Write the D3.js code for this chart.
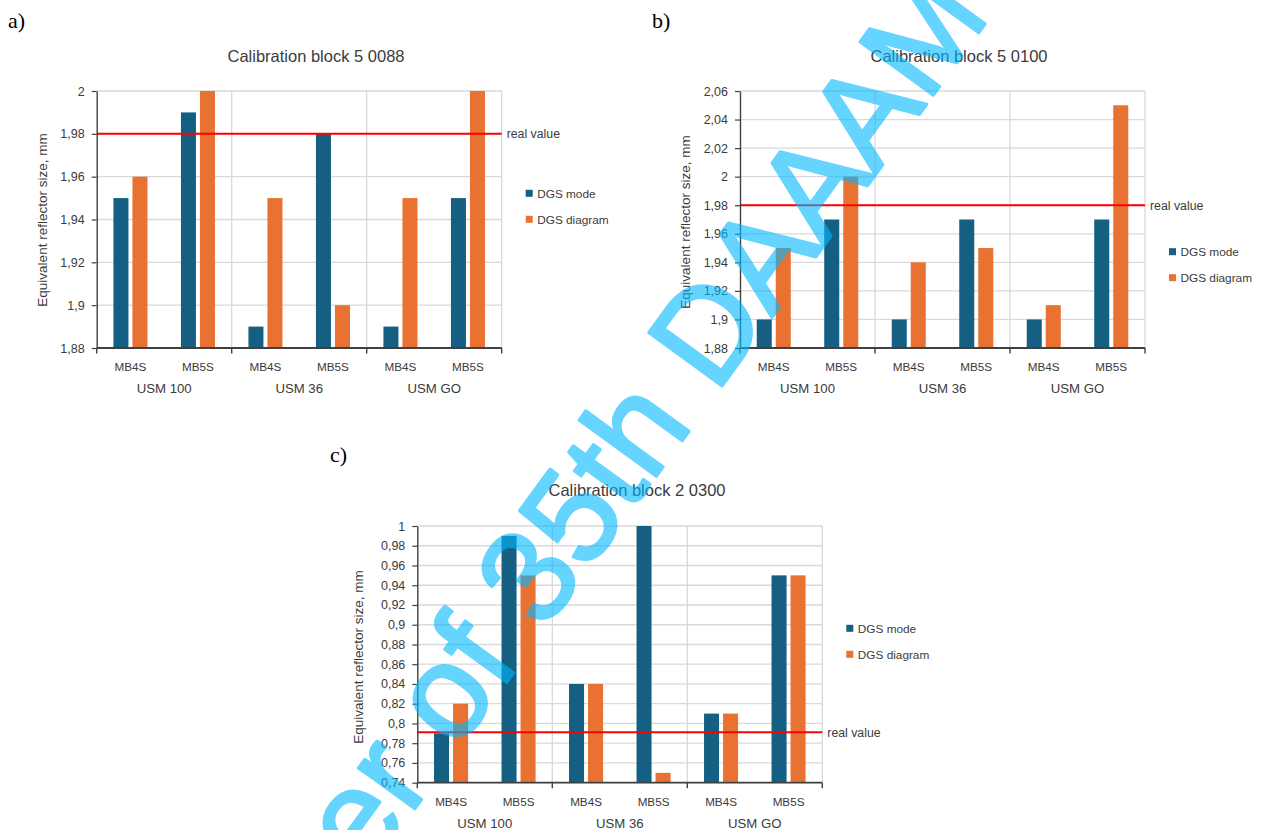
<!DOCTYPE html>
<html>
<head>
<meta charset="utf-8">
<script src="https://cdn.jsdelivr.net/npm/d3@7"></script>
<style>
  body { margin: 0; background: #fff; }
  svg { display: block; font-family: "Liberation Sans", Arial, sans-serif; }
</style>
</head>
<body>
<svg id="fig" width="1261" height="830"></svg>
<script>
// ---- data ----
var groups = ["USM 100", "USM 36", "USM GO"];
var probes = ["MB4S", "MB5S"];
var seriesNames = ["DGS mode", "DGS diagram"];
var panelLetters = ["a)", "b)", "c)"];
var titles = ["Calibration block 5 0088", "Calibration block 5 0100", "Calibration block 2 0300"];

// order: USM 100 MB4S, USM 100 MB5S, USM 36 MB4S, USM 36 MB5S, USM GO MB4S, USM GO MB5S
var dgsModeA    = [1.95, 1.99, 1.89, 1.98, 1.89, 1.95];
var dgsDiagramA = [1.96, 2.00, 1.95, 1.90, 1.95, 2.00];
var dgsModeB    = [1.90, 1.97, 1.90, 1.97, 1.90, 1.97];
var dgsDiagramB = [1.95, 2.00, 1.94, 1.95, 1.91, 2.05];
var dgsModeC    = [0.79, 0.99, 0.84, 1.00, 0.81, 0.95];
var dgsDiagramC = [0.82, 0.95, 0.84, 0.75, 0.81, 0.95];

var realValues = [1.98, 1.98, 0.791];
var yDomains = [[1.88, 2.00], [1.88, 2.06], [0.74, 1.00]];
var yStep = 0.02;
var yLabel = "Equivalent reflector size, mm";
var realLabel = "real value";
var watermarkText = "Paper of 35th DAAAM International Symposium";

// ---- layout ----
var panels = [
  {mode: dgsModeA, diag: dgsDiagramA, left: 96.7, right: 501.7, top: 91, bottom: 348,
   letterX: 8, letterY: 28, titleX: 316, titleY: 62, yLabX: 47, yLabY: 220, legendY: 193.3},
  {mode: dgsModeB, diag: dgsDiagramB, left: 740, right: 1145, top: 91, bottom: 348,
   letterX: 652, letterY: 28, titleX: 959, titleY: 62, yLabX: 689.7, yLabY: 222, legendY: 251.7},
  {mode: dgsModeC, diag: dgsDiagramC, left: 417.3, right: 822.3, top: 526, bottom: 782.7,
   letterX: 330, letterY: 462, titleX: 637, titleY: 496, yLabX: 363, yLabY: 657, legendY: 628.3}
];

var colors = d3.scaleOrdinal().domain(seriesNames).range(["#156082", "#E97132"]);
var textColor = "#3b3b3b";
var gridColor = "#d9d9d9";
var axisColor = "#404040";

var commaFmt = d3.formatLocale({decimal: ",", thousands: ".", grouping: [3], currency: ["", ""]}).format(".3~r");

var svg = d3.select("#fig");
var cats = d3.cross(groups, probes);

panels.forEach(function(p, pi) {
  var g = svg.append("g");
  var dom = yDomains[pi];

  var x0 = d3.scaleBand().domain(d3.range(cats.length)).range([p.left, p.right]);
  var x1 = d3.scaleBand().domain(seriesNames).range([0, x0.bandwidth()])
    .paddingInner(0.21).paddingOuter(0.88);
  var xg = d3.scaleBand().domain(groups).range([p.left, p.right]);
  var y = d3.scaleLinear().domain(dom).range([p.bottom, p.top]);

  var nT = Math.round((dom[1] - dom[0]) / yStep);
  var ticks = d3.range(nT + 1).map(function(i) { return +(dom[0] + i * yStep).toFixed(2); });

  // horizontal gridlines
  g.selectAll(".hgrid").data(ticks).enter().append("line")
    .attr("x1", p.left).attr("x2", p.right)
    .attr("y1", function(d) { return y(d); }).attr("y2", function(d) { return y(d); })
    .attr("stroke", gridColor).attr("stroke-width", 1.3);

  // vertical separators between groups + right border
  var seps = groups.slice(1).map(function(d) { return xg(d); }).concat([p.right]);
  g.selectAll(".vgrid").data(seps).enter().append("line")
    .attr("x1", function(d) { return d; }).attr("x2", function(d) { return d; })
    .attr("y1", p.top).attr("y2", p.bottom)
    .attr("stroke", gridColor).attr("stroke-width", 1.3);

  // bars
  var rows = cats.map(function(c, i) {
    return {i: i, vals: [{s: seriesNames[0], v: p.mode[i]}, {s: seriesNames[1], v: p.diag[i]}]};
  });
  var cg = g.selectAll(".cat").data(rows).enter().append("g")
    .attr("transform", function(d) { return "translate(" + x0(d.i) + ",0)"; });
  cg.selectAll("rect").data(function(d) { return d.vals; }).enter().append("rect")
    .attr("x", function(d) { return x1(d.s); })
    .attr("width", x1.bandwidth())
    .attr("y", function(d) { return y(d.v); })
    .attr("height", function(d) { return p.bottom - y(d.v); })
    .attr("fill", function(d) { return colors(d.s); });

  // real value line
  g.append("line")
    .attr("x1", p.left).attr("x2", p.right)
    .attr("y1", y(realValues[pi])).attr("y2", y(realValues[pi]))
    .attr("stroke", "#ff0000").attr("stroke-width", 2);
  g.append("text")
    .attr("x", p.right + 5).attr("y", y(realValues[pi]) + 4.3)
    .attr("font-size", 12.3).attr("fill", textColor)
    .text(realLabel);

  // left axis
  var ya = g.append("g").attr("transform", "translate(" + p.left + ",0)")
    .call(d3.axisLeft(y).tickValues(ticks).tickFormat(commaFmt).tickSize(5).tickSizeOuter(0).tickPadding(7));
  ya.select(".domain").attr("stroke", axisColor).attr("stroke-width", 1.4);
  ya.selectAll(".tick line").attr("stroke", axisColor).attr("stroke-width", 1.2);
  ya.selectAll(".tick text").attr("fill", textColor).attr("font-size", 12.5)
    .attr("font-family", "Liberation Sans, Arial, sans-serif");

  // bottom axis
  g.append("line")
    .attr("x1", p.left).attr("x2", p.right)
    .attr("y1", p.bottom).attr("y2", p.bottom)
    .attr("stroke", axisColor).attr("stroke-width", 1.8);
  var bticks = [p.left].concat(seps);
  g.selectAll(".btick").data(bticks).enter().append("line")
    .attr("x1", function(d) { return d; }).attr("x2", function(d) { return d; })
    .attr("y1", p.bottom).attr("y2", p.bottom + 5.5)
    .attr("stroke", axisColor).attr("stroke-width", 1.4);

  g.selectAll(".clab").data(cats).enter().append("text")
    .attr("x", function(d, i) { return x0(i) + x0.bandwidth() / 2; })
    .attr("y", p.bottom + 23)
    .attr("text-anchor", "middle").attr("font-size", 11.7).attr("fill", textColor)
    .text(function(d) { return d[1]; });
  g.selectAll(".glab").data(groups).enter().append("text")
    .attr("x", function(d) { return xg(d) + xg.bandwidth() / 2; })
    .attr("y", p.bottom + 45)
    .attr("text-anchor", "middle").attr("font-size", 13.2).attr("fill", textColor)
    .text(function(d) { return d; });

  // y label
  g.append("text")
    .attr("transform", "translate(" + p.yLabX + "," + p.yLabY + ") rotate(-90)")
    .attr("text-anchor", "middle").attr("font-size", 13.5).attr("fill", textColor)
    .text(yLabel);

  // title
  g.append("text")
    .attr("x", p.titleX).attr("y", p.titleY)
    .attr("text-anchor", "middle").attr("font-size", 16.5).attr("fill", textColor)
    .text(titles[pi]);

  // panel letter
  g.append("text")
    .attr("x", p.letterX).attr("y", p.letterY)
    .attr("font-family", "Liberation Serif, Times New Roman, serif")
    .attr("font-size", 22).attr("fill", "#000")
    .text(panelLetters[pi]);

  // legend
  var lg = g.selectAll(".leg").data(seriesNames).enter().append("g")
    .attr("transform", function(d, i) { return "translate(" + (p.right + 24) + "," + (p.legendY + i * 26) + ")"; });
  lg.append("rect").attr("x", 0).attr("y", -3.5).attr("width", 7).attr("height", 7)
    .attr("fill", function(d) { return colors(d); });
  lg.append("text").attr("x", 11.5).attr("y", 4.2)
    .attr("font-size", 11.8).attr("fill", textColor)
    .text(function(d) { return d; });
});

// watermark over the whole figure (anchored at the "D")
var wm = svg.append("g").attr("transform", "translate(715.8,394.8) rotate(-54)");
var wmText = wm.append("text")
  .attr("font-family", "Liberation Sans, Arial, sans-serif")
  .attr("font-size", 132)
  .attr("fill", "#00b8ff")
  .attr("stroke", "#00b8ff").attr("stroke-width", 3).attr("stroke-linejoin", "round")
  .attr("opacity", 0.6)
  .text(watermarkText);
var shift = wmText.node().getSubStringLength(0, watermarkText.indexOf("DAAAM"));
wmText.attr("x", -shift);
</script>
</body>
</html>
